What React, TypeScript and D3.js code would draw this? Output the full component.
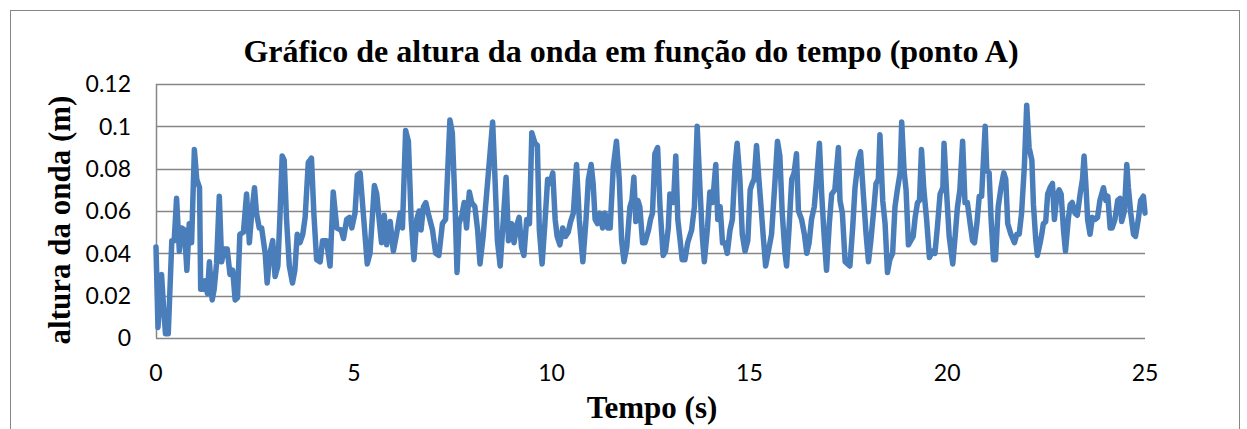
import React, { useEffect, useRef } from 'react';
import * as d3 from 'd3';

// wave height (point A)
const times = [
  0, 0.05, 0.14, 0.19, 0.24, 0.31, 0.40, 0.46, 0.52, 0.59, 0.65, 0.72, 0.78, 0.84, 0.90, 0.97, 1.03, 1.10, 1.13, 1.20,
  1.24, 1.30, 1.35, 1.42, 1.47, 1.53, 1.60, 1.66, 1.72, 1.80, 1.87, 1.94, 2.00, 2.06, 2.12, 2.21, 2.29, 2.36, 2.42, 2.49,
  2.54, 2.61, 2.67, 2.76, 2.81, 2.88, 2.95, 3.01, 3.08, 3.13, 3.19, 3.24, 3.30, 3.37, 3.45, 3.51, 3.57, 3.64, 3.71, 3.77,
  3.85, 3.93, 3.99, 4.06, 4.15, 4.21, 4.31, 4.40, 4.48, 4.57, 4.68, 4.74, 4.82, 4.89, 4.95, 5.03, 5.09, 5.16, 5.24, 5.34,
  5.41, 5.52, 5.58, 5.64, 5.70, 5.77, 5.83, 5.92, 6.00, 6.08, 6.17, 6.23, 6.31, 6.38, 6.45, 6.52, 6.59, 6.65, 6.70, 6.76,
  6.82, 6.88, 6.99, 7.07, 7.15, 7.24, 7.32, 7.43, 7.49, 7.56, 7.61, 7.66, 7.73, 7.79, 7.85, 7.92, 7.98, 8.06, 8.13, 8.19,
  8.27, 8.33, 8.51, 8.57, 8.63, 8.70, 8.78, 8.85, 8.91, 8.99, 9.05, 9.13, 9.18, 9.24, 9.30, 9.37, 9.44, 9.50, 9.58, 9.64,
  9.69, 9.76, 9.83, 9.90, 9.96, 10.03, 10.09, 10.14, 10.21, 10.28, 10.35, 10.42, 10.48, 10.55, 10.63, 10.70, 10.79, 10.87, 10.93, 11.00,
  11.05, 11.10, 11.16, 11.22, 11.29, 11.35, 11.42, 11.48, 11.56, 11.64, 11.71, 11.77, 11.83, 11.90, 11.98, 12.03, 12.08, 12.13, 12.18, 12.23,
  12.30, 12.36, 12.45, 12.50, 12.55, 12.61, 12.68, 12.74, 12.82, 12.88, 12.95, 12.99, 13.08, 13.14, 13.19, 13.25, 13.30, 13.37, 13.44, 13.54,
  13.61, 13.68, 13.75, 13.81, 13.86, 13.94, 14.00, 14.07, 14.15, 14.20, 14.26, 14.32, 14.38, 14.44, 14.51, 14.57, 14.64, 14.69, 14.76, 14.82,
  14.89, 14.96, 15.02, 15.07, 15.12, 15.18, 15.24, 15.29, 15.35, 15.41, 15.50, 15.56, 15.65, 15.71, 15.77, 15.83, 15.90, 15.94, 16.00, 16.07,
  16.13, 16.19, 16.24, 16.32, 16.39, 16.45, 16.51, 16.57, 16.64, 16.70, 16.77, 16.83, 16.89, 16.95, 17.02, 17.08, 17.16, 17.25, 17.29, 17.35,
  17.42, 17.48, 17.54, 17.61, 17.67, 17.75, 17.81, 17.88, 17.95, 18.01, 18.07, 18.15, 18.20, 18.26, 18.30, 18.37, 18.43, 18.49, 18.55, 18.62,
  18.68, 18.74, 18.81, 18.85, 18.91, 18.96, 19.02, 19.08, 19.14, 19.19, 19.25, 19.30, 19.35, 19.41, 19.48, 19.55, 19.63, 19.69, 19.75, 19.82,
  19.89, 19.92, 19.99, 20.05, 20.14, 20.20, 20.26, 20.32, 20.39, 20.45, 20.51, 20.58, 20.64, 20.69, 20.75, 20.81, 20.87, 20.96, 21.00, 21.06,
  21.11, 21.17, 21.22, 21.29, 21.36, 21.43, 21.48, 21.53, 21.61, 21.70, 21.76, 21.82, 21.88, 21.95, 22.01, 22.07, 22.14, 22.18, 22.24, 22.28,
  22.35, 22.39, 22.43, 22.49, 22.54, 22.60, 22.66, 22.71, 22.77, 22.83, 22.88, 22.94, 22.99, 23.06, 23.11, 23.16, 23.23, 23.29, 23.36, 23.42,
  23.46, 23.51, 23.55, 23.61, 23.67, 23.74, 23.80, 23.86, 23.95, 24.01, 24.06, 24.12, 24.17, 24.24, 24.31, 24.37, 24.41, 24.48, 24.54, 24.58,
  24.64, 24.71, 24.76, 24.83, 24.89, 24.96, 25.00,
];
const heights = [
  0.043, 0.005, 0.030, 0.015, 0.002, 0.002, 0.046, 0.046, 0.066, 0.041, 0.052, 0.051, 0.032, 0.054, 0.045, 0.089, 0.075, 0.071, 0.023, 0.023,
  0.027, 0.021, 0.036, 0.018, 0.023, 0.035, 0.067, 0.036, 0.042, 0.042, 0.030, 0.032, 0.018, 0.019, 0.049, 0.050, 0.068, 0.045, 0.059, 0.071,
  0.059, 0.052, 0.052, 0.040, 0.026, 0.040, 0.046, 0.029, 0.034, 0.056, 0.086, 0.084, 0.056, 0.034, 0.026, 0.032, 0.049, 0.045, 0.049, 0.057,
  0.083, 0.085, 0.059, 0.037, 0.036, 0.046, 0.046, 0.034, 0.069, 0.052, 0.051, 0.047, 0.056, 0.057, 0.052, 0.059, 0.077, 0.078, 0.059, 0.035,
  0.040, 0.072, 0.068, 0.056, 0.045, 0.058, 0.044, 0.055, 0.041, 0.049, 0.059, 0.052, 0.098, 0.093, 0.056, 0.037, 0.056, 0.060, 0.051, 0.062,
  0.064, 0.059, 0.051, 0.040, 0.039, 0.054, 0.056, 0.103, 0.097, 0.062, 0.031, 0.054, 0.058, 0.064, 0.052, 0.069, 0.064, 0.062, 0.051, 0.035,
  0.048, 0.062, 0.102, 0.075, 0.046, 0.034, 0.056, 0.076, 0.046, 0.054, 0.045, 0.054, 0.057, 0.043, 0.039, 0.056, 0.054, 0.097, 0.092, 0.091,
  0.051, 0.035, 0.054, 0.075, 0.073, 0.078, 0.056, 0.048, 0.044, 0.052, 0.048, 0.050, 0.055, 0.059, 0.082, 0.056, 0.036, 0.056, 0.075, 0.082,
  0.073, 0.056, 0.054, 0.059, 0.052, 0.059, 0.052, 0.052, 0.081, 0.093, 0.075, 0.046, 0.036, 0.043, 0.062, 0.065, 0.076, 0.055, 0.065, 0.062,
  0.045, 0.045, 0.051, 0.056, 0.059, 0.087, 0.090, 0.062, 0.039, 0.041, 0.052, 0.068, 0.064, 0.086, 0.056, 0.046, 0.037, 0.037, 0.045, 0.051,
  0.062, 0.100, 0.071, 0.048, 0.036, 0.052, 0.069, 0.064, 0.082, 0.056, 0.062, 0.045, 0.045, 0.040, 0.051, 0.056, 0.082, 0.092, 0.075, 0.049,
  0.041, 0.046, 0.070, 0.073, 0.075, 0.091, 0.075, 0.063, 0.048, 0.034, 0.043, 0.049, 0.075, 0.093, 0.086, 0.059, 0.040, 0.034, 0.051, 0.075,
  0.078, 0.087, 0.060, 0.056, 0.049, 0.040, 0.045, 0.056, 0.062, 0.075, 0.092, 0.067, 0.048, 0.032, 0.054, 0.068, 0.070, 0.090, 0.065, 0.059,
  0.036, 0.035, 0.034, 0.052, 0.071, 0.084, 0.088, 0.068, 0.049, 0.036, 0.046, 0.062, 0.073, 0.075, 0.096, 0.065, 0.054, 0.031, 0.037, 0.040,
  0.062, 0.070, 0.078, 0.102, 0.079, 0.070, 0.044, 0.046, 0.048, 0.057, 0.064, 0.065, 0.089, 0.070, 0.056, 0.038, 0.041, 0.040, 0.052, 0.068,
  0.071, 0.092, 0.067, 0.048, 0.035, 0.048, 0.062, 0.070, 0.093, 0.064, 0.064, 0.054, 0.046, 0.045, 0.054, 0.067, 0.067, 0.100, 0.079, 0.078,
  0.056, 0.037, 0.037, 0.062, 0.071, 0.078, 0.075, 0.054, 0.049, 0.045, 0.049, 0.049, 0.059, 0.081, 0.110, 0.090, 0.084, 0.063, 0.046, 0.039,
  0.045, 0.049, 0.054, 0.055, 0.068, 0.071, 0.073, 0.056, 0.067, 0.070, 0.068, 0.051, 0.041, 0.056, 0.063, 0.064, 0.059, 0.058, 0.068, 0.075,
  0.086, 0.071, 0.056, 0.049, 0.057, 0.056, 0.057, 0.065, 0.071, 0.065, 0.067, 0.052, 0.052, 0.056, 0.065, 0.066, 0.055, 0.060, 0.082, 0.071,
  0.059, 0.049, 0.048, 0.056, 0.065, 0.067, 0.059,
];

const yTicks = [0, 0.02, 0.04, 0.06, 0.08, 0.1, 0.12];
const xTicks = [0, 5, 10, 15, 20, 25];

const chartTitle = 'Gráfico de altura da onda em função do tempo (ponto A)';
const xTitle = 'Tempo (s)';
const yTitle = 'altura da onda (m)';

const W = 1247;
const H = 429;

export default function App() {
  const ref = useRef<SVGSVGElement | null>(null);

  useEffect(() => {
    const svg = d3.select(ref.current);
    svg.selectAll('*').remove();

    const left = 156, right = 1145, top = 84, bottom = 338;
    const x = d3.scaleLinear().domain([0, 25]).range([left, right]);
    const y = d3.scaleLinear().domain([0, 0.12]).range([bottom, top]);

    const grid = '#868686';
    const serif = '"Liberation Serif", "Times New Roman", serif';
    const sans = 'Lato, Carlito, "Open Sans", sans-serif';

    // chart frame
    svg.append('rect')
      .attr('x', 10.5).attr('y', 10.5)
      .attr('width', 1229).attr('height', H)
      .attr('fill', 'white')
      .attr('stroke', grid).attr('stroke-width', 1);

    svg.append('text')
      .attr('x', 631).attr('y', 62)
      .attr('text-anchor', 'middle')
      .attr('font-family', serif).attr('font-weight', 'bold').attr('font-size', 32)
      .text(chartTitle);

    // horizontal gridlines
    svg.append('g').selectAll('line').data(yTicks).enter()
      .append('line')
      .attr('x1', left).attr('x2', right)
      .attr('y1', (d) => Math.round(y(d)) + 0.5)
      .attr('y2', (d) => Math.round(y(d)) + 0.5)
      .attr('stroke', grid).attr('stroke-width', 1.5);

    // y axis line
    svg.append('line')
      .attr('x1', left + 0.5).attr('x2', left + 0.5)
      .attr('y1', top).attr('y2', bottom)
      .attr('stroke', grid).attr('stroke-width', 1.5);

    svg.append('g').selectAll('text').data(yTicks).enter()
      .append('text')
      .attr('x', 131).attr('y', (d) => y(d))
      .attr('dy', '0.36em')
      .attr('text-anchor', 'end')
      .attr('font-family', sans).attr('font-size', 23)
      .text((d) => d3.format('~g')(d));

    svg.append('g').selectAll('text').data(xTicks).enter()
      .append('text')
      .attr('x', (d) => x(d)).attr('y', 381)
      .attr('text-anchor', 'middle')
      .attr('font-family', sans).attr('font-size', 23)
      .text((d) => String(d));

    const line = d3.line<number>()
      .x((d, i) => x(times[i]))
      .y((d) => y(d));

    svg.append('path')
      .datum(heights)
      .attr('d', line)
      .attr('fill', 'none')
      .attr('stroke', '#4A7EBB')
      .attr('stroke-width', 5.5)
      .attr('stroke-linejoin', 'round')
      .attr('stroke-linecap', 'round');

    svg.append('text')
      .attr('x', 652).attr('y', 418)
      .attr('text-anchor', 'middle')
      .attr('font-family', serif).attr('font-weight', 'bold').attr('font-size', 31)
      .text(xTitle);

    svg.append('text')
      .attr('transform', 'translate(70,220) rotate(-90)')
      .attr('text-anchor', 'middle')
      .attr('font-family', serif).attr('font-weight', 'bold').attr('font-size', 31)
      .text(yTitle);
  }, []);

  return (
    <svg ref={ref} width={W} height={H}
      style={{ position: 'absolute', left: 0, top: 0, background: 'white' }} />
  );
}
